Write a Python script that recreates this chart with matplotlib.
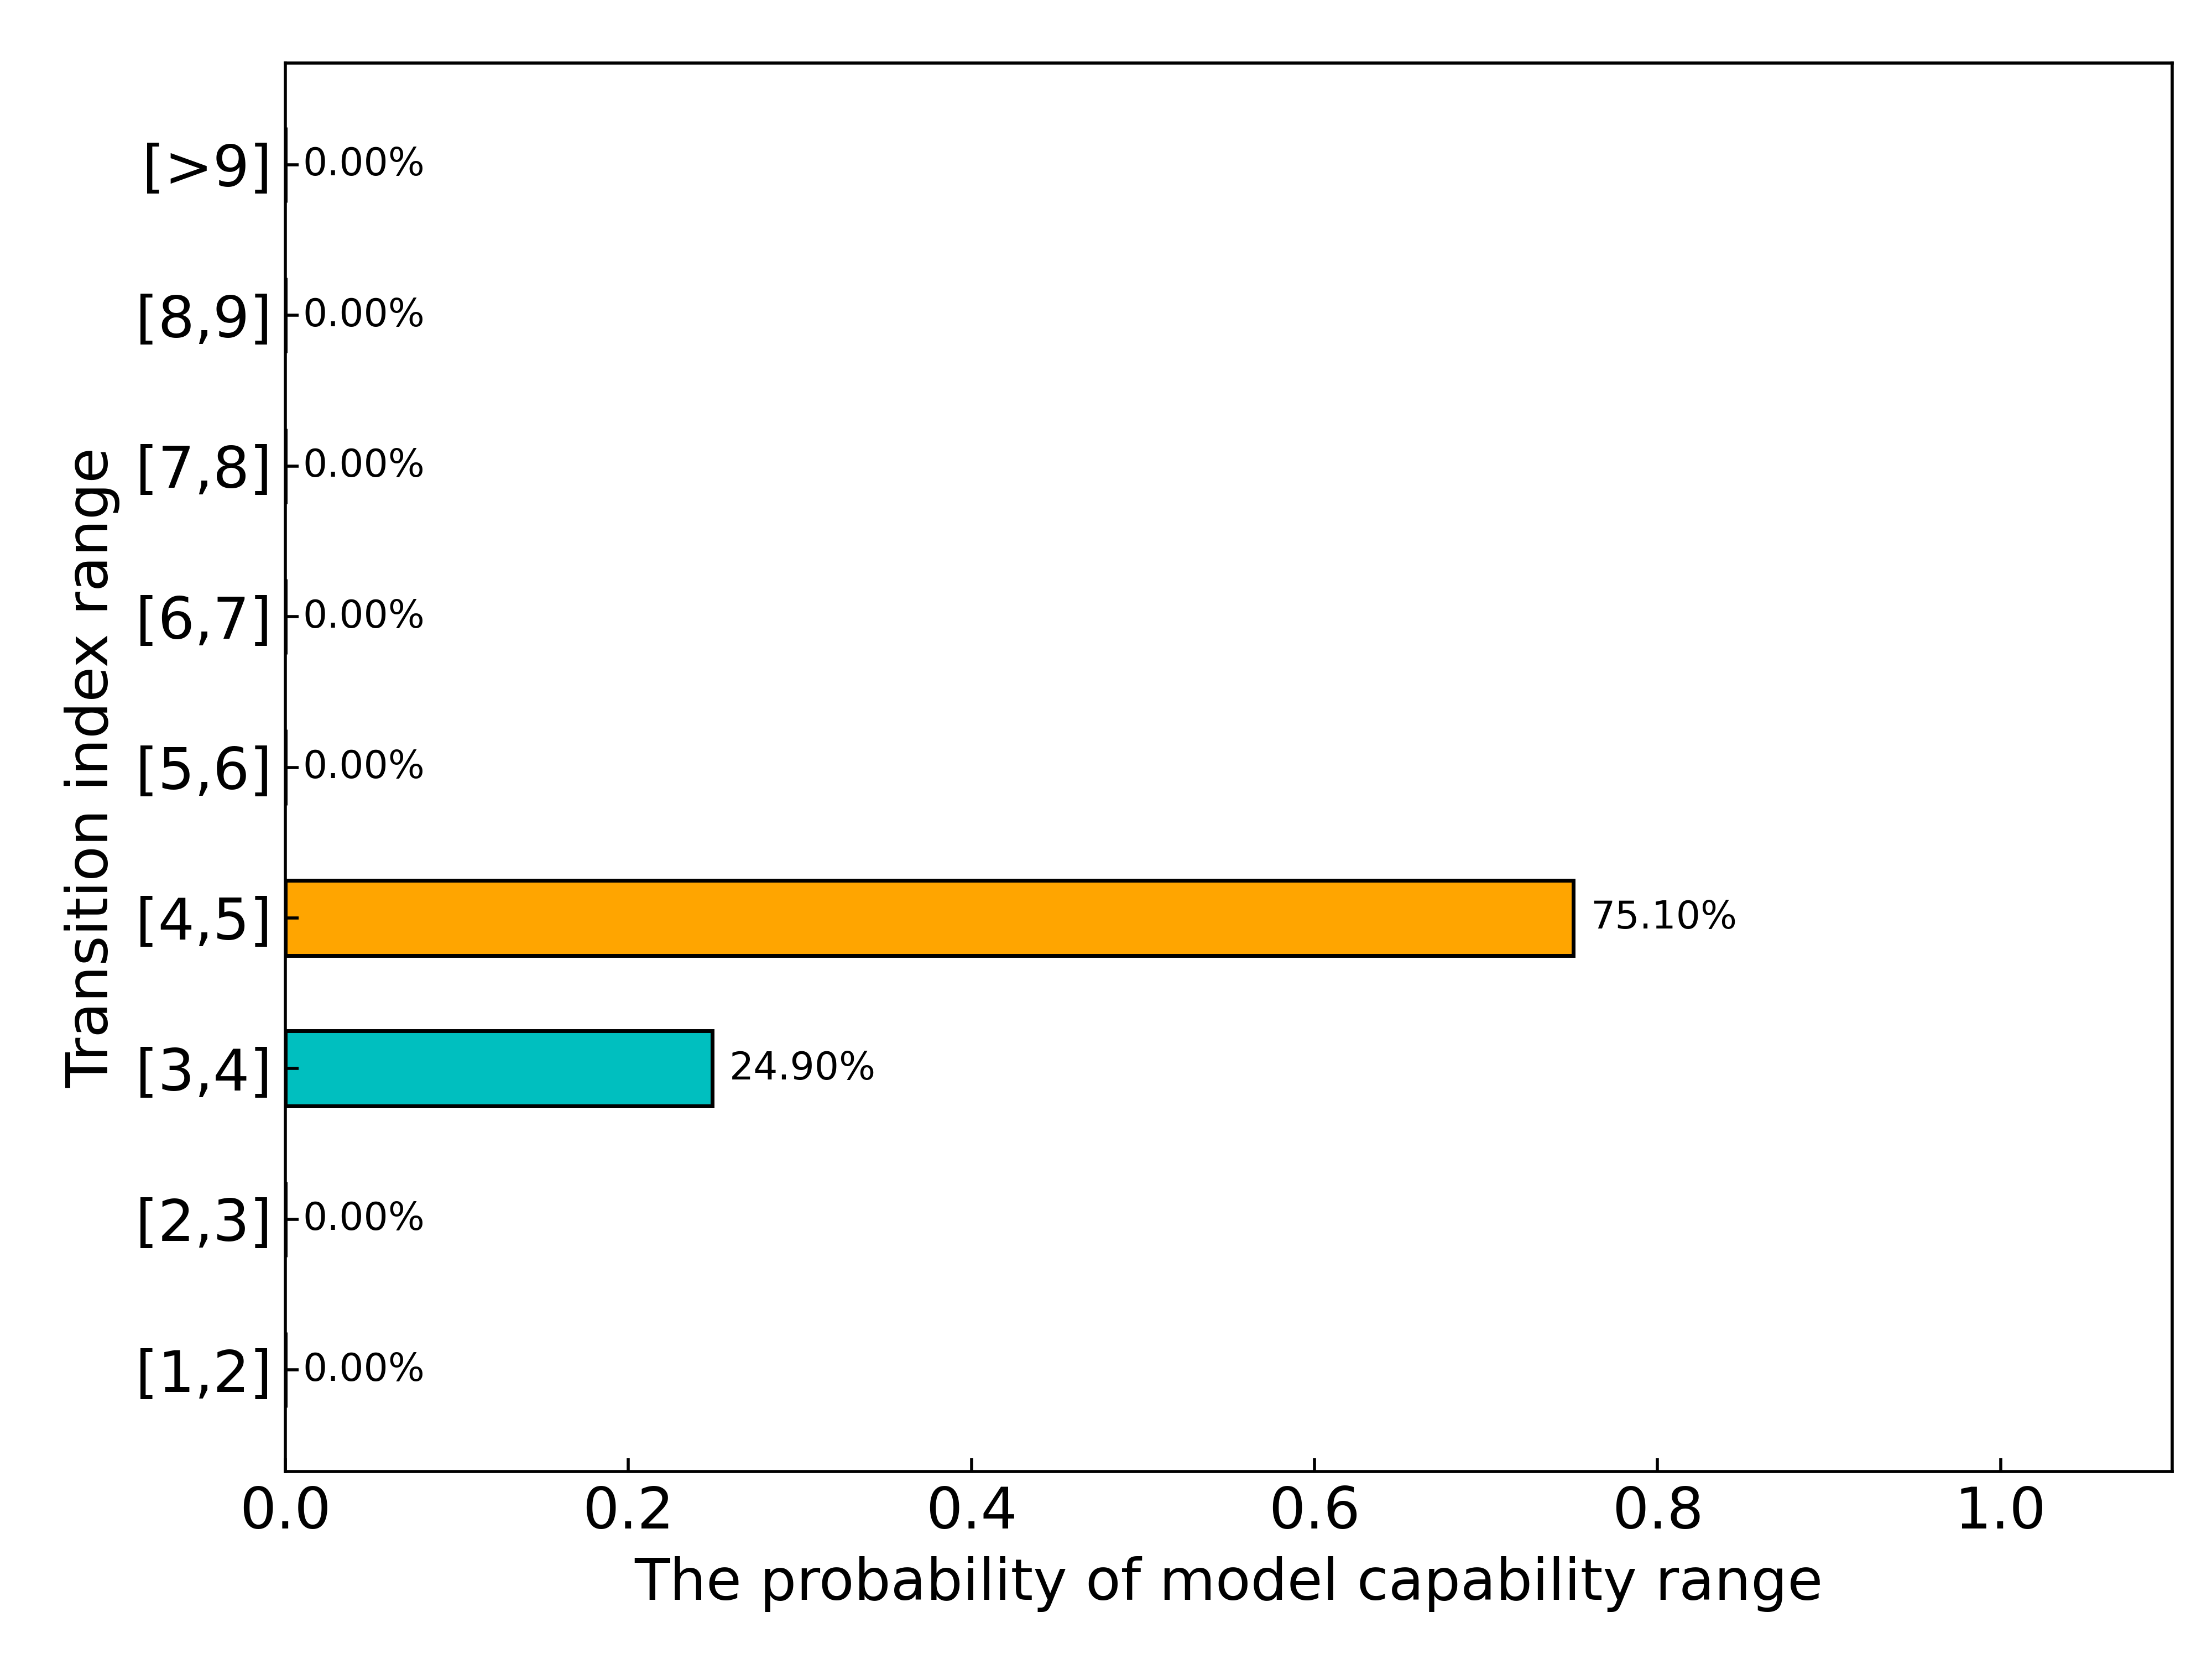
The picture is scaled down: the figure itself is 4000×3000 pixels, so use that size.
import numpy as np
import matplotlib
matplotlib.use("Agg")
import matplotlib.pyplot as plt

# rangos del indice de transicion y probabilidad de cada uno
rangos = ["[1,2]", "[2,3]", "[3,4]", "[4,5]", "[5,6]", "[6,7]", "[7,8]", "[8,9]", "[>9]"]
probabilidad = [0.0, 0.0, 0.249, 0.751, 0.0, 0.0, 0.0, 0.0, 0.0]
colores = ["c", "c", "c", "orange", "c", "c", "c", "c", "c"]

fig, ax = plt.subplots(figsize=(8, 6), dpi=500)
y = np.arange(len(rangos))
barras = ax.barh(y, probabilidad, height=0.5, color=colores, edgecolor="black", linewidth=1)

# etiquetas de porcentaje al final de cada barra
for yi, p in zip(y, probabilidad):
    ax.text(p + 0.01, yi, f"{p*100:.2f}%", ha="left", va="center", fontsize=10)

ax.set_yticks(y)
ax.set_yticklabels(rangos)
ax.set_xlim(0, 1.1)
ax.tick_params(direction="in", labelsize=15)
ax.set_xlabel("The probability of model capability range", fontsize=15)
ax.set_ylabel("Transition index range", fontsize=15)

plt.subplots_adjust(left=0.129, right=0.982, top=0.962, bottom=0.113)
plt.savefig("out.png", dpi=500)
